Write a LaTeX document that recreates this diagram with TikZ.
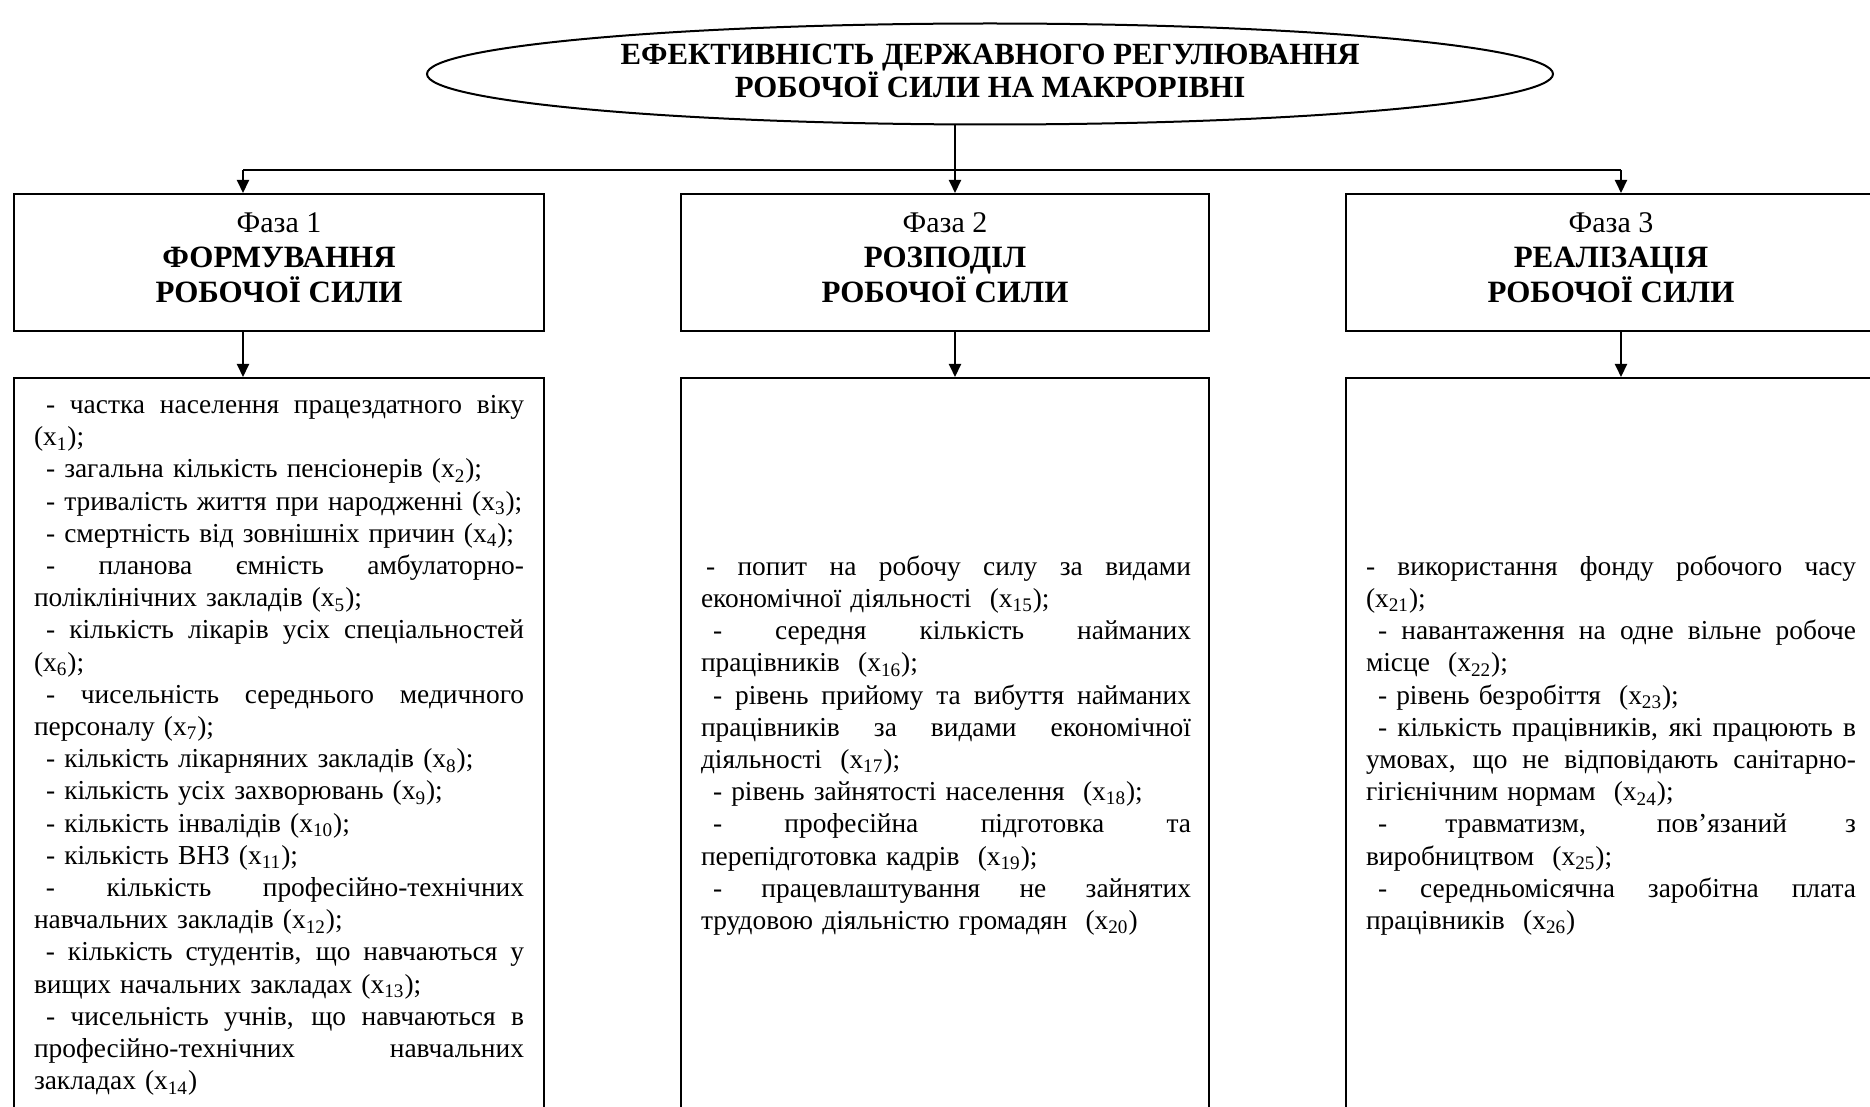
\documentclass[tikz,border=0pt]{standalone}
\usepackage{fontspec}
\setmainfont{Liberation Serif}
\usetikzlibrary{shapes.geometric,arrows.meta}
\newcommand\xs[1]{(x\textsubscript{#1})}
\newcommand\jl[1]{\leavevmode\hbox to 245pt{\spaceskip=\fontdimen2\font plus 1fil\xspaceskip=\spaceskip #1}}
\newcommand\nl[1]{\mbox{#1}}
\newcommand\ind{\hspace*{6pt}}
\begin{document}
\begin{tikzpicture}[x=0.5pt,y=-0.5pt,line width=1pt,
  arr/.style={-{Triangle[length=6.5pt,width=6pt]}},
  phase/.style={draw,rectangle,anchor=north west,minimum width=265pt,minimum height=68.5pt,inner sep=0pt},
  phtext/.style={align=center,inner sep=0pt,font=\fontsize{15pt}{17.6pt}\selectfont},
  lst/.style={draw,rectangle,anchor=north west,minimum height=367.5pt,text width=245pt,
    align=left,inner xsep=10pt,inner ysep=0pt,font=\fontsize{13.7pt}{16.1pt}\selectfont}]
\useasboundingbox (0,0) rectangle (1870,1107);
\clip (0,0) rectangle (1870,1107);

\node[draw,ellipse,minimum width=563pt,minimum height=50.5pt,inner sep=0pt] (ell) at (990,74) {};
\node[align=center,inner sep=0pt,font=\bfseries\fontsize{15.4pt}{16.6pt}\selectfont] (title) at (990,71)
  {ЕФЕКТИВНІСТЬ ДЕРЖАВНОГО РЕГУЛЮВАННЯ\\РОБОЧОЇ СИЛИ НА МАКРОРІВНІ};

\node[phase] (p1) at (13,193) {};
\node[phase,minimum width=264pt] (p2) at (680,193) {};
\node[phase] (p3) at (1345,193) {};
\node[phtext] (p1t) at ([yshift=2.5pt]p1.center) {Фаза 1\\{\fontsize{15.5pt}{17.6pt}\selectfont\bfseries ФОРМУВАННЯ}\\{\fontsize{15.5pt}{17.6pt}\selectfont\bfseries РОБОЧОЇ СИЛИ}};
\node[phtext] (p2t) at ([yshift=2.5pt]p2.center) {Фаза 2\\{\fontsize{15.5pt}{17.6pt}\selectfont\bfseries РОЗПОДІЛ}\\{\fontsize{15.5pt}{17.6pt}\selectfont\bfseries РОБОЧОЇ СИЛИ}};
\node[phtext] (p3t) at ([yshift=2.5pt]p3.center) {Фаза 3\\{\fontsize{15.5pt}{17.6pt}\selectfont\bfseries РЕАЛІЗАЦІЯ}\\{\fontsize{15.5pt}{17.6pt}\selectfont\bfseries РОБОЧОЇ СИЛИ}};

\node[lst] (l1) at (13,377) {%
\jl{\ind- частка населення працездатного віку}\\
\nl{\xs{1};}\\
\nl{\ind- загальна кількість пенсіонерів \xs{2};}\\
\nl{\ind- тривалість життя при народженні \xs{3};}\\
\nl{\ind- смертність від зовнішніх причин \xs{4};}\\
\jl{\ind- планова ємність амбулаторно-}\\
\nl{поліклінічних закладів \xs{5};}\\
\jl{\ind- кількість лікарів усіх спеціальностей}\\
\nl{\xs{6};}\\
\jl{\ind- чисельність середнього медичного}\\
\nl{персоналу \xs{7};}\\
\nl{\ind- кількість лікарняних закладів \xs{8};}\\
\nl{\ind- кількість усіх захворювань \xs{9};}\\
\nl{\ind- кількість інвалідів \xs{10};}\\
\nl{\ind- кількість ВНЗ \xs{11};}\\
\jl{\ind- кількість професійно-технічних}\\
\nl{навчальних закладів \xs{12};}\\
\jl{\ind- кількість студентів, що навчаються у}\\
\nl{вищих начальних закладах \xs{13};}\\
\jl{\ind- чисельність учнів, що навчаються в}\\
\jl{професійно-технічних навчальних}\\
\nl{закладах \xs{14}}};

\node[lst,text width=244pt] (l2) at (680,377) {%
\jl{\hspace*{2.5pt}- попит на робочу силу за видами}\\
\nl{економічної діяльності\ \ \xs{15};}\\
\jl{\ind- середня кількість найманих}\\
\nl{працівників\ \ \xs{16};}\\
\jl{\ind- рівень прийому та вибуття найманих}\\
\jl{працівників за видами економічної}\\
\nl{діяльності\ \ \xs{17};}\\
\nl{\ind- рівень зайнятості населення\ \ \xs{18};}\\
\jl{\ind- професійна підготовка та}\\
\nl{перепідготовка кадрів\ \ \xs{19};}\\
\jl{\ind- працевлаштування не зайнятих}\\
\nl{трудовою діяльністю громадян\ \ \xs{20}}};

\node[lst] (l3) at (1345,377) {%
\jl{- використання фонду робочого часу}\\
\nl{\xs{21};}\\
\jl{\ind- навантаження на одне вільне робоче}\\
\nl{місце\ \ \xs{22};}\\
\nl{\ind- рівень безробіття\ \ \xs{23};}\\
\jl{\ind- кількість працівників, які працюють в}\\
\jl{умовах, що не відповідають санітарно-}\\
\nl{гігієнічним нормам\ \ \xs{24};}\\
\jl{\ind- травматизм, пов’язаний з}\\
\nl{виробництвом\ \ \xs{25};}\\
\jl{\ind- середньомісячна заробітна плата}\\
\nl{працівників\ \ \xs{26}}};

\coordinate (hub) at (955,170);
\coordinate (hl) at (243,170);
\coordinate (hr) at (1621,170);
\draw[arr] (ell.south -| hub) -- (hub) -- (hub |- p2.north);
\draw (hl) -- (hr);
\draw[arr] (hl) -- (hl |- p1.north);
\draw[arr] (hr) -- (hr |- p3.north);
\draw[arr] (hl |- p1.south) -- (hl |- l1.north);
\draw[arr] (hub |- p2.south) -- (hub |- l2.north);
\draw[arr] (hr |- p3.south) -- (hr |- l3.north);
\end{tikzpicture}
\end{document}
